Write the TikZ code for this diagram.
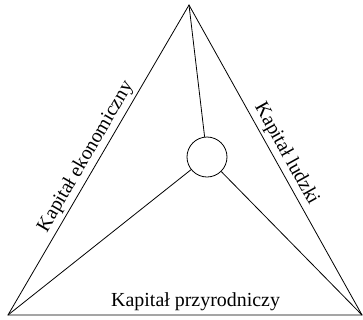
\documentclass[tikz,border=0pt]{standalone}
\usepackage{fontspec}
\setmainfont{Liberation Serif}
\begin{document}
\begin{tikzpicture}[x=1bp,y=-1bp,
  edge/.style={draw=black,line width=0.8bp,line join=miter},
  lab/.style={font=\fontsize{20}{23}\selectfont,inner sep=3bp,sloped,above}]
\useasboundingbox (0,0) rectangle (363,320);
\coordinate (A) at (189,5);
\coordinate (B) at (8,315);
\coordinate (C) at (362,315);
\node[circle,draw,line width=0.8bp,minimum size=40bp,inner sep=0pt] (O) at (207,157) {};
\draw[edge] (B) -- node[lab,pos=0.49] {Kapitał ekonomiczny} (A) -- node[lab] {Kapitał ludzki} (C) -- cycle;
\path (B) -- node[lab,pos=0.53,inner sep=4bp] {Kapitał przyrodniczy} (C);
\draw[edge] (O) -- (A);
\draw[edge] (O) -- (B);
\draw[edge] (O) -- (C);
\end{tikzpicture}
\end{document}
